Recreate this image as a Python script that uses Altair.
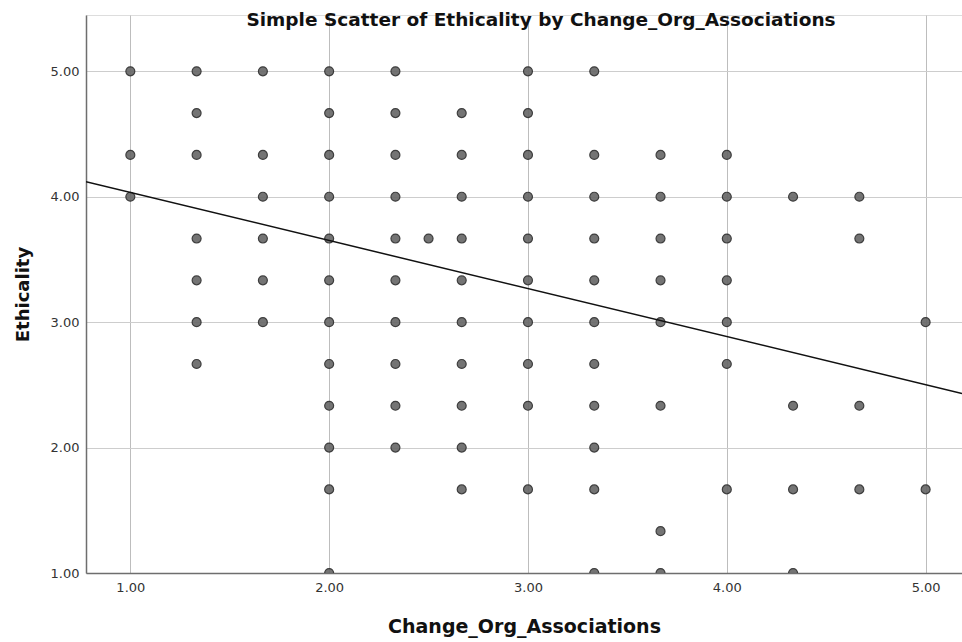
import altair as alt
import pandas as pd

# Observed (unique) data points: x value -> list of Ethicality values
x_vals = [1.0, 4/3, 5/3, 2.0, 7/3, 2.5, 8/3, 3.0, 10/3, 11/3, 4.0, 13/3, 14/3, 5.0]
y_lists = [
    [5.0, 13/3, 4.0],
    [5.0, 14/3, 13/3, 11/3, 10/3, 3.0, 8/3],
    [5.0, 13/3, 4.0, 11/3, 10/3, 3.0],
    [5.0, 14/3, 13/3, 4.0, 11/3, 10/3, 3.0, 8/3, 7/3, 2.0, 5/3, 1.0],
    [5.0, 14/3, 13/3, 4.0, 11/3, 10/3, 3.0, 8/3, 7/3, 2.0],
    [11/3],
    [14/3, 13/3, 4.0, 11/3, 10/3, 3.0, 8/3, 7/3, 2.0, 5/3],
    [5.0, 14/3, 13/3, 4.0, 11/3, 10/3, 3.0, 8/3, 7/3, 5/3],
    [5.0, 13/3, 4.0, 11/3, 10/3, 3.0, 8/3, 7/3, 2.0, 5/3, 1.0],
    [13/3, 4.0, 11/3, 10/3, 3.0, 7/3, 4/3, 1.0],
    [13/3, 4.0, 11/3, 10/3, 3.0, 8/3, 5/3],
    [4.0, 7/3, 5/3, 1.0],
    [4.0, 11/3, 7/3, 5/3],
    [3.0, 5/3],
]

# Fit line
fit_intercept = 4.417
fit_slope = -0.383

x_domain = [0.777, 5.183]
y_domain = [1.0, 5.449]
x_ticks = [1, 2, 3, 4, 5]
y_ticks = [1, 2, 3, 4, 5]

rows = []
for xv, ys in zip(x_vals, y_lists):
    for yv in ys:
        rows.append({"x": xv, "y": yv})
pts = pd.DataFrame(rows)

line_df = pd.DataFrame({
    "x": x_domain,
    "y": [fit_intercept + fit_slope * v for v in x_domain],
})

FONT = "DejaVu Sans"

xscale = alt.Scale(domain=x_domain, nice=False, zero=False)
yscale = alt.Scale(domain=y_domain, nice=False, zero=False)

xaxis = alt.Axis(
    title="Change_Org_Associations", values=x_ticks, format=".2f",
    grid=True, gridColor="#bdbdbd", gridWidth=1,
    ticks=False, domainColor="#6e6e6e", domainWidth=1.5,
    labelFont=FONT, labelFontSize=13, labelColor="#333333", labelPadding=8,
    titleFont=FONT, titleFontSize=19, titleFontWeight="bold", titleColor="#111111",
    titlePadding=23,
)
yaxis = alt.Axis(
    title="Ethicality", values=y_ticks, format=".2f",
    grid=True, gridColor="#cdcdcd", gridWidth=1,
    ticks=False, domainColor="#6e6e6e", domainWidth=1.5,
    labelFont=FONT, labelFontSize=13, labelColor="#333333", labelPadding=7,
    titleFont=FONT, titleFontSize=18, titleFontWeight="bold", titleColor="#111111",
    titlePadding=18,
)

points = alt.Chart(pts).mark_circle(
    size=80, color="#666666", stroke="#2a2a2a", strokeWidth=1.2, opacity=0.9, clip=True
).encode(
    x=alt.X("x:Q", scale=xscale, axis=xaxis),
    y=alt.Y("y:Q", scale=yscale, axis=yaxis),
)

fit = alt.Chart(line_df).mark_line(color="#111111", strokeWidth=1.5, clip=True).encode(
    x=alt.X("x:Q", scale=xscale),
    y=alt.Y("y:Q", scale=yscale),
)

chart = (points + fit).properties(
    width=876,
    height=558,
    title=alt.TitleParams(
        "Simple Scatter of Ethicality by Change_Org_Associations",
        font=FONT, fontSize=18.5, fontWeight="bold", color="#111111",
        anchor="middle", offset=-14, dx=17,
    ),
    autosize=alt.AutoSizeParams(type="none"),
    padding={"left": 86, "top": 15, "right": 0, "bottom": 69},
).configure_view(stroke=None).configure(background="white")

chart.save("out.html", embed_options={"renderer": "svg", "actions": False})
